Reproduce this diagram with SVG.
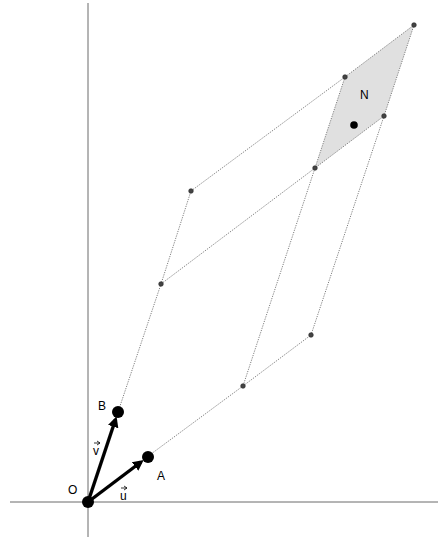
<svg xmlns="http://www.w3.org/2000/svg" width="444" height="537" viewBox="0 0 444 537">
<defs>
<style>
.axis{stroke:#6b6b6b;stroke-width:1;fill:none}
.dot{stroke:#808080;stroke-width:1;stroke-dasharray:1.2,1.2;fill:none}
.pt{fill:#444;stroke:#222;stroke-width:0.6}
.big{fill:#000}
.vec{stroke:#000;stroke-width:3.4;fill:none}
.acc{stroke:#000;stroke-width:0.8;fill:none}
.lbl{font-family:"Liberation Sans",Arial,sans-serif;font-size:12px;fill:#000}
</style>
<marker id="ah" markerWidth="4" markerHeight="4" refX="2.2" refY="2" orient="auto" markerUnits="strokeWidth">
<path d="M0,0.4 L3.2,2 L0,3.6 Z" fill="#000"/>
</marker>
<marker id="sa" markerWidth="6" markerHeight="6" refX="3" refY="3" orient="auto" markerUnits="userSpaceOnUse">
<path d="M0,1 L3,3 L0,5" fill="none" stroke="#000" stroke-width="0.8"/>
</marker>
</defs>
<rect width="444" height="537" fill="#fff"/>
<g id="shade">
<polygon points="315,168 345,77 414,25 384,116" fill="#e0e0e0"/>
</g>
<g id="axes">
<line class="axis" x1="10" y1="502" x2="438" y2="502"/>
<line class="axis" x1="88" y1="3" x2="88" y2="537"/>
</g>
<g id="connectors">
<polyline class="dot" points="118,412 161,284 191,191 345,77 414,25"/>
<polyline class="dot" points="161,284 315,168 384,116 414,25"/>
<polyline class="dot" points="345,77 315,168 243,386"/>
<polyline class="dot" points="147,457 243,386 311,335 384,116"/>
<line class="vec" x1="88" y1="502" x2="141" y2="462" marker-end="url(#ah)"/>
<line class="vec" x1="88" y1="502" x2="115.5" y2="419.5" marker-end="url(#ah)"/>
</g>
<g id="points">
<circle class="pt" cx="161" cy="284" r="2.3"/>
<circle class="pt" cx="191" cy="191" r="2.3"/>
<circle class="pt" cx="345" cy="77" r="2.3"/>
<circle class="pt" cx="414" cy="25" r="2.3"/>
<circle class="pt" cx="384" cy="116" r="2.3"/>
<circle class="pt" cx="315" cy="168" r="2.3"/>
<circle class="pt" cx="243" cy="386" r="2.3"/>
<circle class="pt" cx="311" cy="335" r="2.3"/>
</g>
<g id="node-O"><circle class="big" cx="88" cy="502" r="6"/><text class="lbl" x="68" y="494">O</text></g>
<g id="node-A"><circle class="big" cx="148" cy="457" r="6"/><text class="lbl" x="157" y="480">A</text></g>
<g id="node-B"><circle class="big" cx="118" cy="412" r="6"/><text class="lbl" x="98" y="410">B</text></g>
<g id="node-N"><circle class="big" cx="354" cy="125" r="3.8"/><text class="lbl" x="360" y="99">N</text></g>
<g id="label-u"><text class="lbl" x="120" y="500">u</text><line class="acc" x1="121" y1="488" x2="127" y2="488" marker-end="url(#sa)"/></g>
<g id="label-v"><text class="lbl" x="93" y="455">v</text><line class="acc" x1="94" y1="443" x2="100" y2="443" marker-end="url(#sa)"/></g>
</svg>
